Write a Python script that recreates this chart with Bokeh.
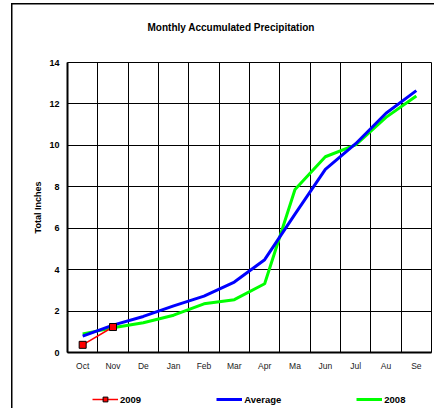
from bokeh.plotting import figure
from bokeh.layouts import column
from bokeh.models import FactorRange, FixedTicker, Range1d, Legend, LegendItem, Title
from bokeh.embed import file_html
from bokeh.resources import INLINE

months = ["Oct", "Nov", "De", "Jan", "Feb", "Mar", "Apr", "Ma", "Jun", "Jul", "Au", "Se"]
average = [0.79, 1.32, 1.74, 2.25, 2.72, 3.40, 4.48, 6.68, 8.84, 10.08, 11.55, 12.64]
y2008 = [0.90, 1.19, 1.44, 1.80, 2.35, 2.55, 3.32, 7.87, 9.45, 10.02, 11.35, 12.38]
months_2009 = ["Oct", "Nov"]
y2009 = [0.37, 1.23]
y_ticks = [0, 2, 4, 6, 8, 10, 12, 14]
legend_labels = ["2009", "Average", "2008"]

FONT = "Liberation Sans"
C2009, CAVG, C2008 = "#ff0000", "#0000ff", "#00ff00"

p = figure(x_range=FactorRange(*months), y_range=Range1d(0, 14),
           frame_width=364, frame_height=290,
           min_border_left=67, min_border_right=3, min_border_top=62, min_border_bottom=28,
           output_backend="svg", toolbar_location=None,
           background_fill_color="white", border_fill_color="white", border_fill_alpha=0)

# outer chart border (left and top edges visible in the window)
p.styles = {
    "background-color": "white",
    "background-image": "linear-gradient(#000, #000), linear-gradient(#000, #000)",
    "background-size": "1.5px 420px, 440px 1.5px",
    "background-position": "11px 3px, 11px 3px",
    "background-repeat": "no-repeat",
}

# spacer between the frame and the title
p.add_layout(Title(text=" ", text_font_size="10px", standoff=17), "above")

p.title.text = "Monthly Accumulated Precipitation"
p.title.align = "left"
p.title.offset = 80
p.title.vertical_align = "bottom"
p.title.text_font = FONT
p.title.text_font_size = "10px"
p.title.text_font_style = "bold"
p.title.text_color = "black"
p.title.standoff = 0

p.outline_line_color = "black"
p.outline_line_width = 1
p.outline_line_alpha = 1

# grids
p.xgrid.ticker = FixedTicker(ticks=list(range(1, 12)))
p.xgrid.grid_line_color = "black"
p.xgrid.grid_line_alpha = 1
p.xgrid.grid_line_width = 1
p.yaxis.ticker = FixedTicker(ticks=y_ticks)
p.ygrid.ticker = FixedTicker(ticks=y_ticks)
p.ygrid.grid_line_color = "black"
p.ygrid.grid_line_alpha = 1
p.ygrid.grid_line_width = 1

for ax in (p.xaxis[0], p.yaxis[0]):
    ax.axis_line_color = "black"
    ax.axis_line_width = 2
    ax.major_tick_line_color = None
    ax.minor_tick_line_color = None
    ax.major_tick_out = 0
    ax.major_tick_in = 0

p.xaxis.major_label_text_font = FONT
p.xaxis.major_label_text_font_size = "8.5px"
p.xaxis.major_label_text_color = "#222222"
p.xaxis.major_label_standoff = 8

p.yaxis.major_label_text_font = FONT
p.yaxis.major_label_text_font_size = "9px"
p.yaxis.major_label_text_font_style = "bold"
p.yaxis.major_label_text_color = "black"
p.yaxis.major_label_standoff = 8
p.yaxis.axis_label = "Total Inches"
p.yaxis.axis_label_text_font = FONT
p.yaxis.axis_label_text_font_size = "9px"
p.yaxis.axis_label_text_font_style = "bold"
p.yaxis.axis_label_text_color = "black"
p.yaxis.axis_label_standoff = 3

p.line(months, y2008, line_color=C2008, line_width=3)
p.line(months, average, line_color=CAVG, line_width=3)
p.line(months_2009, y2009, line_color=C2009, line_width=1.5)
p.scatter(months_2009, y2009, marker="square", size=7,
          fill_color=C2009, line_color="black", line_width=1)

# legend strip below the chart (its frame is aligned with the chart frame)
q = figure(width=434, height=28, min_border=0, x_axis_type=None, y_axis_type=None,
           x_range=Range1d(10, 11), y_range=Range1d(10, 11),
           output_backend="svg", toolbar_location=None,
           background_fill_alpha=0, border_fill_alpha=0)
q.outline_line_color = None
q.styles = {
    "background-color": "white",
    "background-image": "linear-gradient(#000, #000)",
    "background-size": "1.5px 60px",
    "background-position": "11px 0px",
    "background-repeat": "no-repeat",
}
# legend proxies (kept outside the visible range of the strip)
proxy_x = [0, 1]
proxy_y = [0, 0]
k09 = q.line(proxy_x, proxy_y, line_color=C2009, line_width=1.5)
k09m = q.scatter(proxy_x, proxy_y, marker="square", size=7, fill_color=C2009,
                 line_color="black", line_width=1)
kavg = q.line(proxy_x, proxy_y, line_color=CAVG, line_width=3)
k08 = q.line(proxy_x, proxy_y, line_color=C2008, line_width=3)

legend = Legend(items=[LegendItem(label=legend_labels[0], renderers=[k09, k09m]),
                       LegendItem(label=legend_labels[1], renderers=[kavg]),
                       LegendItem(label=legend_labels[2], renderers=[k08])],
                orientation="horizontal", location=(25, 3),
                spacing=75, glyph_width=26, glyph_height=12, label_height=12,
                label_standoff=2, padding=0, margin=0,
                border_line_color=None, background_fill_alpha=0,
                label_text_font=FONT, label_text_font_size="9.5px",
                label_text_font_style="bold", label_text_color="black")
q.add_layout(legend)

layout = column(p, q, spacing=0)

open("out.html", "w").write(file_html(layout, INLINE))
